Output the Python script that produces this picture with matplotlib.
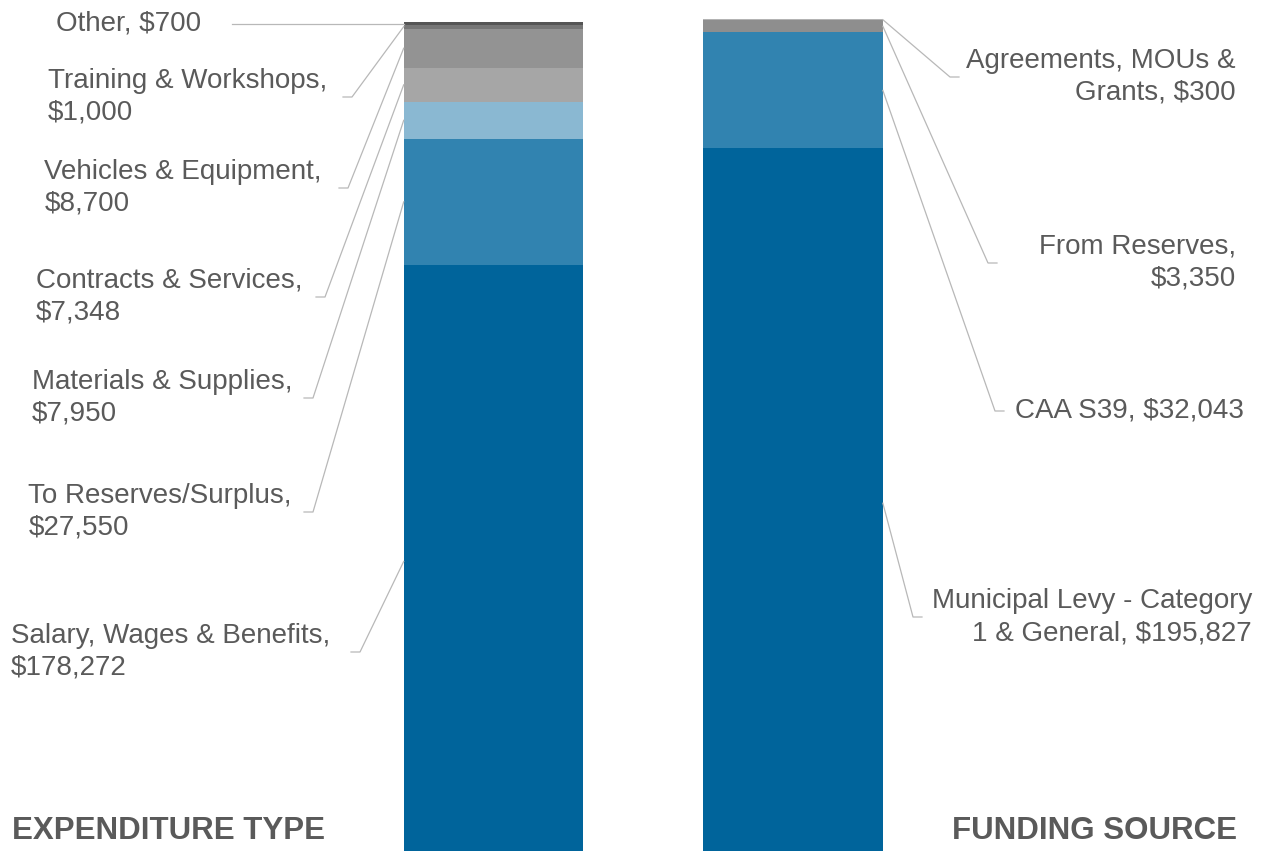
import numpy as np
import matplotlib.pyplot as plt

plt.rcParams['font.family'] = ['Liberation Sans', 'DejaVu Sans']

# expenditure bar, bottom to top
exp_labels = ['Salary, Wages & Benefits,\n$178,272', 'To Reserves/Surplus,\n$27,550',
              'Materials & Supplies,\n$7,950', 'Contracts & Services,\n$7,348',
              'Vehicles & Equipment,\n$8,700', 'Training & Workshops,\n$1,000', 'Other, $700']
# segment heights as drawn in the picture (they don't follow the printed amounts)
exp_heights = [163700, 34800, 10200, 9400, 10800, 1100, 830]
exp_colors = ['#00649b', '#3183b0', '#8ab8d2', '#a6a6a6', '#939393', '#767676', '#555555']

# funding bar, bottom to top
fund_labels = ['Municipal Levy - Category\n1 & General, $195,827', 'CAA S39, $32,043',
               'From Reserves,\n$3,350', 'Agreements, MOUs &\nGrants, $300']
fund_heights = [195827, 32043, 3350, 300]
fund_colors = ['#00649b', '#3183b0', '#8e8e8e', '#b3b3b3']

# label layout in pixels (elbow x, elbow y, text right edge)
exp_elbow = [(360, 652), (313, 512), (313, 398), (325, 297), (348, 188), (352, 97), (232, 24)]
exp_text_right = [330, 292, 292, 302, 322, 327, 201]
fund_elbow = [(913, 617), (995, 411), (988, 263), (950, 77)]
fund_text_right = [1252, 1244, 1236, 1236]

W, H = 1265, 851
XL = (-1.648, 2.576)
YL = (1932, 236808)


def px(x, y):
    return (XL[0] + x / W * (XL[1] - XL[0]), YL[1] - y / H * (YL[1] - YL[0]))


fig = plt.figure(figsize=(12.65, 8.51), dpi=100)
ax = fig.add_axes([0, 0, 1, 1])
ax.set_xlim(*XL)
ax.set_ylim(*YL)
ax.axis('off')

bw = 0.6
line_c = '#b8b8b8'
text_c = '#5a5a5a'
tail = 9 / W * (XL[1] - XL[0])

bottom = 0
for i, h in enumerate(exp_heights):
    ax.bar(0, h, bottom=bottom, width=bw, color=exp_colors[i], linewidth=0)
    mid = bottom + h / 2
    ex, ey = px(*exp_elbow[i])
    if i == len(exp_heights) - 1:
        ax.plot([-bw / 2, ex], [ey, ey], color=line_c, lw=0.9)
    else:
        ax.plot([-bw / 2, ex, ex - tail], [mid, ey, ey], color=line_c, lw=0.9)
    tx, _ = px(exp_text_right[i], 0)
    ax.text(tx, ey, exp_labels[i], ha='right', va='center', multialignment='left',
            fontsize=20, color=text_c, linespacing=1.3)
    bottom += h

bottom = 0
for i, h in enumerate(fund_heights):
    ax.bar(1, h, bottom=bottom, width=bw, color=fund_colors[i], linewidth=0)
    mid = bottom + h / 2
    ex, ey = px(*fund_elbow[i])
    ax.plot([1 + bw / 2, ex, ex + tail], [mid, ey, ey], color=line_c, lw=0.9)
    tx, _ = px(fund_text_right[i], 0)
    ax.text(tx, ey, fund_labels[i], ha='right', va='center', multialignment='right',
            fontsize=20, color=text_c, linespacing=1.3)
    bottom += h

x, y = px(12, 831)
ax.text(x, y, 'EXPENDITURE TYPE', ha='left', va='center', fontsize=22.5,
        fontweight='bold', color=text_c)
x, y = px(1237, 831)
ax.text(x, y, 'FUNDING SOURCE', ha='right', va='center', fontsize=22.5,
        fontweight='bold', color=text_c)

fig.savefig('out.png', dpi=100, facecolor='white')
